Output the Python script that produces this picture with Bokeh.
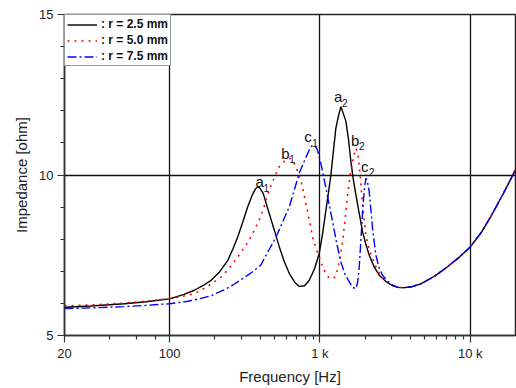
from bokeh.plotting import figure
from bokeh.models import Range1d, FixedTicker, Legend, LegendItem, ColumnDataSource
from bokeh.embed import file_html
from bokeh.resources import INLINE
from bokeh.core.properties import value

# ---------------- data ----------------
tail_f = [3300, 3640, 4100, 4694, 5800, 7060, 8500, 10000, 11800, 13680, 16500, 20000]
tail_z = [6.50, 6.49, 6.52, 6.61, 6.85, 7.14, 7.45, 7.76, 8.20, 8.70, 9.40, 10.16]

f_r25 = [20, 30, 50, 70, 100, 125, 146, 170, 189, 215, 244, 265, 284, 308, 331, 355,
         372, 385, 398, 420, 460, 500, 537, 580, 626, 680, 728, 790, 849, 920, 989,
         1040, 1096, 1140, 1183, 1230, 1277, 1330, 1379, 1430, 1489, 1550, 1607, 1670,
         1735, 1830, 1922, 2020, 2128, 2300, 2479, 2750, 3046] + tail_f
z_r25 = [5.88, 5.92, 5.99, 6.05, 6.14, 6.28, 6.41, 6.58, 6.72, 6.98, 7.34, 7.72, 8.07,
         8.56, 9.01, 9.38, 9.56, 9.63, 9.60, 9.42, 8.80, 8.25, 7.76, 7.30, 6.93, 6.66,
         6.53, 6.55, 6.72, 7.07, 7.55, 8.15, 8.90, 9.45, 10.00, 10.75, 11.46, 11.85,
         12.13, 11.92, 11.67, 11.10, 10.42, 9.85, 9.38, 8.78, 8.23, 7.85, 7.50, 7.13,
         6.88, 6.68, 6.55] + tail_z

f_r50 = [20, 30, 50, 70, 100, 125, 146, 175, 220, 250, 284, 315, 348, 395, 430, 460,
         500, 537, 580, 626, 660, 693, 750, 807, 850, 894, 940, 989, 1040, 1096, 1140,
         1183, 1230, 1277, 1340, 1415, 1470, 1527, 1590, 1649, 1700, 1735, 1780, 1823,
         1870, 1922, 2022, 2120, 2240, 2400, 2610, 2800, 3046] + tail_f
z_r50 = [5.93, 5.95, 6.01, 6.07, 6.15, 6.23, 6.30, 6.50, 6.82, 7.10, 7.45, 7.75, 8.07,
         8.60, 9.08, 9.53, 9.95, 10.26, 10.43, 10.52, 10.45, 10.26, 9.80, 9.12, 8.60,
         8.07, 7.72, 7.45, 7.15, 6.93, 6.82, 6.77, 6.78, 6.85, 7.25, 7.92, 8.60, 9.38,
         10.00, 10.42, 10.70, 10.83, 10.70, 10.31, 9.75, 9.06, 8.12, 7.70, 7.40, 7.05,
         6.80, 6.67, 6.56] + tail_z

f_r75 = [20, 30, 50, 70, 100, 130, 160, 189, 230, 265, 299, 343, 376, 405, 450, 511, 570,
         626, 680, 728, 790, 849, 880, 916, 960, 1015, 1096, 1150, 1215, 1290, 1379,
         1470, 1567, 1650, 1735, 1780, 1823, 1870, 1922, 1970, 2022, 2070, 2128, 2180,
         2240, 2356, 2480, 2610, 2800, 3046] + tail_f
z_r75 = [5.84, 5.86, 5.90, 5.94, 5.99, 6.06, 6.15, 6.24, 6.42, 6.58, 6.74, 6.93, 7.07,
         7.20, 7.60, 8.07, 8.58, 9.01, 9.58, 10.05, 10.45, 10.78, 10.90, 10.94, 10.80,
         10.36, 9.60, 9.10, 8.54, 7.90, 7.29, 6.90, 6.67, 6.50, 6.46, 6.65, 7.08, 7.90,
         8.85, 9.50, 9.90, 9.80, 9.48, 8.95, 8.33, 7.50, 7.10, 6.88, 6.70, 6.57] + tail_z

series_labels = [": r = 2.5 mm", ": r = 5.0 mm", ": r = 7.5 mm"]

peak_letters = ["a", "b", "c", "a", "b", "c"]
peak_subs = ["1", "1", "1", "2", "2", "2"]
peak_f = [385, 626, 916, 1379, 1735, 2022]
peak_z = [9.63, 10.52, 10.94, 12.13, 10.83, 9.90]

x_major = [20, 100, 1000, 10000]
x_major_text = ["20", "100", "1 k", "10 k"]
x_minor = [40, 60, 80, 200, 300, 400, 500, 600, 700, 800, 900,
           2000, 3000, 4000, 5000, 6000, 7000, 8000, 9000]
y_major = [5, 10, 15]
y_minor = [6, 7, 8, 9, 11, 12, 13, 14]

# ---------------- figure ----------------
FONT = "Liberation Sans"
p = figure(width=516, height=388, x_axis_type="log",
           x_range=Range1d(20, 20000), y_range=Range1d(5, 15),
           output_backend="svg", toolbar_location=None,
           min_border_left=64, min_border_right=1, min_border_top=14,
           min_border_bottom=53)
p.background_fill_color = "white"
p.border_fill_color = "white"
p.outline_line_color = "#222222"
p.outline_line_width = 1.5

p.xaxis.ticker = FixedTicker(ticks=x_major, minor_ticks=x_minor)
p.yaxis.ticker = FixedTicker(ticks=y_major, minor_ticks=y_minor)
p.xaxis.major_label_overrides = {v: t for v, t in zip(x_major, x_major_text)}

for ax in (p.xaxis, p.yaxis):
    ax.axis_line_color = "#333333"
    ax.axis_line_width = 1.5
    ax.major_tick_line_color = "#333333"
    ax.minor_tick_line_color = "#333333"
    ax.major_tick_line_width = 1.2
    ax.minor_tick_line_width = 1.2
    ax.major_tick_out = 7
    ax.major_tick_in = 0
    ax.minor_tick_out = 4
    ax.minor_tick_in = 0
    ax.major_label_text_font = FONT
    ax.major_label_text_font_size = "13px"
    ax.major_label_text_color = "#222222"
    ax.axis_label_text_font = FONT
    ax.axis_label_text_font_size = "15px"
    ax.axis_label_text_font_style = "normal"
    ax.axis_label_text_color = "#222222"

p.xaxis.axis_label = "Frequency [Hz]"
p.yaxis.axis_label = "Impedance [ohm]"
p.xaxis.major_label_standoff = 3
p.xaxis.axis_label_standoff = 4
p.yaxis.major_label_standoff = 4
p.yaxis.axis_label_standoff = 6

for g in (p.xgrid, p.ygrid):
    g.grid_line_color = "#111111"
    g.grid_line_width = 1.3

r1 = p.line(f_r25, z_r25, line_color="black", line_width=1.4)
r2 = p.line(f_r50, z_r50, line_color="#ff0000", line_width=1.6, line_dash="2 5")
r3 = p.line(f_r75, z_r75, line_color="#0000ff", line_width=1.4, line_dash="9 3 2 3")

src = ColumnDataSource(dict(x=peak_f, y=peak_z, t=peak_letters, s=peak_subs))
lx = [-2, -8, -10, -7, -5, -5]
ly = [-5, -5, -8, -10, -8, -12]
src.data["lx"] = lx
src.data["ly"] = ly
src.data["sx"] = [v + 8 for v in lx]
src.data["sy"] = [v + 6 for v in ly]
p.text(x="x", y="y", text="t", source=src, x_offset="lx", y_offset="ly",
       text_font=value(FONT), text_font_size="15px", text_color="#111111",
       text_align="left", text_baseline="alphabetic")
p.text(x="x", y="y", text="s", source=src, x_offset="sx", y_offset="sy",
       text_font=value(FONT), text_font_size="10px", text_color="#111111",
       text_align="left", text_baseline="alphabetic")

legend = Legend(items=[LegendItem(label=series_labels[0], renderers=[r1]),
                       LegendItem(label=series_labels[1], renderers=[r2]),
                       LegendItem(label=series_labels[2], renderers=[r3])],
                location="top_left")
legend.margin = 0
legend.padding = 2
legend.spacing = 2
legend.glyph_height = 13
legend.label_height = 13
legend.glyph_width = 30
legend.label_standoff = 4
legend.label_text_font = FONT
legend.label_text_font_size = "12px"
legend.label_text_font_style = "bold"
legend.label_text_color = "#111111"
legend.border_line_color = "#333333"
legend.border_line_width = 1.3
legend.background_fill_alpha = 1.0
p.add_layout(legend, "center")

open("out.html", "w").write(file_html(p, INLINE))
